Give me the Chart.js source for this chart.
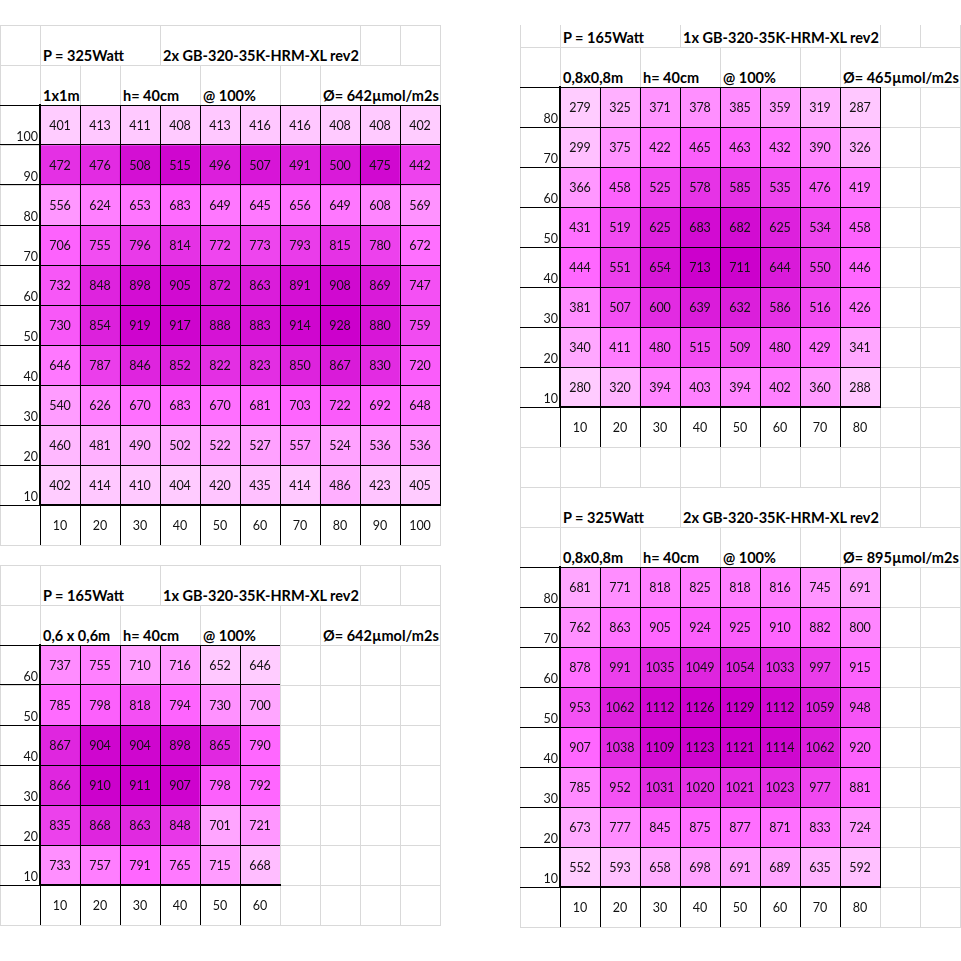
<!DOCTYPE html>
<html>
<head>
<meta charset="utf-8">
<script src="https://cdn.jsdelivr.net/npm/chart.js@4.4.1/dist/chart.umd.min.js"></script>
<style>
  body { margin: 0; background: #fff; }
  #sheet { position: relative; width: 961px; height: 961px; overflow: hidden; font-family: Lato, sans-serif; }
  .g { position: absolute; background: #d9d9d9; }
  .hd { position: absolute; font-weight: bold; font-size: 14.5px; line-height: 18px; white-space: nowrap; color: #000; }
  canvas { position: absolute; }
</style>
</head>
<body>
<div id="sheet"></div>
<script>
// --- data (rows listed top to bottom, as in the sheet) ---
const xLabels100 = ['10', '20', '30', '40', '50', '60', '70', '80', '90', '100'];
const yLabels100 = ['100', '90', '80', '70', '60', '50', '40', '30', '20', '10'];
const ppfd100 = [
  [401, 413, 411, 408, 413, 416, 416, 408, 408, 402],
  [472, 476, 508, 515, 496, 507, 491, 500, 475, 442],
  [556, 624, 653, 683, 649, 645, 656, 649, 608, 569],
  [706, 755, 796, 814, 772, 773, 793, 815, 780, 672],
  [732, 848, 898, 905, 872, 863, 891, 908, 869, 747],
  [730, 854, 919, 917, 888, 883, 914, 928, 880, 759],
  [646, 787, 846, 852, 822, 823, 850, 867, 830, 720],
  [540, 626, 670, 683, 670, 681, 703, 722, 692, 648],
  [460, 481, 490, 502, 522, 527, 557, 524, 536, 536],
  [402, 414, 410, 404, 420, 435, 414, 486, 423, 405]
];
const shade100Row90 = [820, 830, 895, 915, 860, 880, 850, 870, 910, 780];

const xLabels60 = ['10', '20', '30', '40', '50', '60'];
const yLabels60 = ['60', '50', '40', '30', '20', '10'];
const ppfd60 = [
  [737, 755, 710, 716, 652, 646],
  [785, 798, 818, 794, 730, 700],
  [867, 904, 904, 898, 865, 790],
  [866, 910, 911, 907, 798, 792],
  [835, 868, 863, 848, 701, 721],
  [733, 757, 791, 765, 715, 668]
];

const xLabels80 = ['10', '20', '30', '40', '50', '60', '70', '80'];
const yLabels80 = ['80', '70', '60', '50', '40', '30', '20', '10'];
const ppfd80single = [
  [279, 325, 371, 378, 385, 359, 319, 287],
  [299, 375, 422, 465, 463, 432, 390, 326],
  [366, 458, 525, 578, 585, 535, 476, 419],
  [431, 519, 625, 683, 682, 625, 534, 458],
  [444, 551, 654, 713, 711, 644, 550, 446],
  [381, 507, 600, 639, 632, 586, 516, 426],
  [340, 411, 480, 515, 509, 480, 429, 341],
  [280, 320, 394, 403, 394, 402, 360, 288]
];
const ppfd80double = [
  [681, 771, 818, 825, 818, 816, 745, 691],
  [762, 863, 905, 924, 925, 910, 882, 800],
  [878, 991, 1035, 1049, 1054, 1033, 997, 915],
  [953, 1062, 1112, 1126, 1129, 1112, 1059, 948],
  [907, 1038, 1109, 1123, 1121, 1114, 1062, 920],
  [785, 952, 1031, 1020, 1021, 1023, 977, 881],
  [673, 777, 845, 875, 877, 871, 833, 724],
  [552, 593, 658, 698, 691, 689, 635, 592]
];

const head100 = ['P = 325Watt', '2x GB-320-35K-HRM-XL rev2', '1x1m', 'h= 40cm', '@ 100%', 'Ø= 642µmol/m2s'];
const head60 = ['P = 165Watt', '1x GB-320-35K-HRM-XL rev2', '0,6 x 0,6m', 'h= 40cm', '@ 100%', 'Ø= 642µmol/m2s'];
const head80single = ['P = 165Watt', '1x GB-320-35K-HRM-XL rev2', '0,8x0,8m', 'h= 40cm', '@ 100%', 'Ø= 465µmol/m2s'];
const head80double = ['P = 325Watt', '2x GB-320-35K-HRM-XL rev2', '0,8x0,8m', 'h= 40cm', '@ 100%', 'Ø= 895µmol/m2s'];

const GREY = '#d9d9d9';
const LOW = [255, 204, 255], MID = [255, 102, 255], HIGH = [204, 0, 204];
const tickFont = { family: 'Lato', size: 12.5 };
const sheet = document.getElementById('sheet');

// --- spreadsheet chrome ---
function line(x, y, w, h) {
  const d = document.createElement('div');
  d.className = 'g';
  d.style.cssText = `left:${x}px;top:${y}px;width:${w}px;height:${h}px`;
  sheet.appendChild(d);
}
function range(a, b, step) {
  const out = [];
  for (let v = a; v <= b; v += step) out.push(v);
  return out;
}
const hLines = (x1, x2, ys) => ys.forEach(y => line(x1, y, x2 - x1 + 1, 1));
const vLines = (xs, y1, y2) => xs.forEach(x => line(x, y1, 1, y2 - y1));

hLines(0, 440, [25, 65, ...range(105, 545, 40)]);
vLines([0, 40, 160, 360, 400, 440], 25, 65);
vLines([0, 40, 80, 120, 200, 280, 320, 440], 65, 105);
vLines(range(0, 440, 40), 105, 545);
hLines(0, 440, [565, 605, ...range(645, 925, 40)]);
vLines([0, 40, 160, 360, 400, 440], 565, 605);
vLines([0, 40, 120, 200, 280, 320, 440], 605, 645);
vLines(range(0, 440, 40), 645, 925);

hLines(520, 960, [47, ...range(87, 927, 40)]);
vLines([520, 560, 680, 880, 920, 960], 25, 47);
vLines([520, 560, 640, 720, 800, 840, 960], 47, 87);
vLines(range(520, 960, 40), 87, 487);
vLines([520, 560, 680, 880, 920, 960], 487, 527);
vLines([520, 560, 640, 720, 800, 840, 960], 527, 567);
vLines(range(520, 960, 40), 567, 927);

function headers(texts, x0, bottom1, bottom2) {
  const spots = [[x0 + 3, bottom1], [x0 + 123, bottom1], [x0 + 3, bottom2], [x0 + 83, bottom2], [x0 + 163, bottom2], [x0 + 283, bottom2]];
  texts.forEach((t, i) => {
    const d = document.createElement('div');
    d.className = 'hd';
    d.textContent = t;
    d.style.left = spots[i][0] + 'px';
    d.style.top = (spots[i][1] - 18) + 'px';
    sheet.appendChild(d);
  });
}
headers(head100, 40, 65, 105);
headers(head60, 40, 605, 645);
headers(head80single, 560, 47, 87);
headers(head80double, 560, 527, 567);

// --- colour scale: min / median / max like a 3-colour scale ---
function median(arr) {
  const s = [...arr].sort((a, b) => a - b);
  const n = s.length;
  return n % 2 ? s[(n - 1) / 2] : (s[n / 2 - 1] + s[n / 2]) / 2;
}
function makeScale(vals) {
  const lo = Math.min(...vals), hi = Math.max(...vals), mid = median(vals);
  return v => {
    let a, b, t;
    if (v <= mid) { a = LOW; b = MID; t = (v - lo) / (mid - lo); }
    else { a = MID; b = HIGH; t = (v - mid) / (hi - mid); }
    return 'rgb(' + a.map((k, i) => Math.round(k + (b[i] - k) * t)).join(',') + ')';
  };
}

const valueLabels = {
  id: 'valueLabels',
  afterDraw(chart) {
    const ctx = chart.ctx;
    ctx.save();
    ctx.font = '12.5px Lato';
    ctx.fillStyle = '#111';
    ctx.textAlign = 'center';
    ctx.textBaseline = 'middle';
    chart.data.datasets.forEach((ds, d) => {
      chart.getDatasetMeta(d).data.forEach((bar, j) => {
        const p = bar.getCenterPoint();
        ctx.fillText(ds.data[j].v, p.x, p.y + 1);
      });
    });
    ctx.restore();
  }
};

function heatmap(box, xLabels, yLabels, values, shades, openRight) {
  const canvas = document.createElement('canvas');
  canvas.width = box.w;
  canvas.height = box.h;
  canvas.style.left = box.x + 'px';
  canvas.style.top = box.y + 'px';
  sheet.appendChild(canvas);

  const colour = makeScale(shades.flat());
  const n = yLabels.length;
  const datasets = values.map((row, r) => {
    const i = n - 1 - r;
    return {
      data: row.map((v, j) => ({ x: xLabels[j], y: [i, i + 1], v })),
      backgroundColor: shades[r].map(colour),
      borderWidth: 0,
      grouped: false,
      barPercentage: 1,
      categoryPercentage: 1
    };
  });

  new Chart(canvas, {
    type: 'bar',
    data: { labels: xLabels, datasets },
    options: {
      responsive: false,
      animation: false,
      events: [],
      layout: { padding: { top: 1, right: 1 } },
      plugins: { legend: { display: false }, tooltip: { enabled: false } },
      scales: {
        x: {
          grid: {
            z: 1,
            offset: true,
            tickLength: 40,
            color: c => c.type !== 'tick' && openRight ? 'rgba(0,0,0,0)' : '#000',
            tickColor: c => c.type !== 'tick' ? GREY : '#000'
          },
          border: { z: 1, color: '#000', width: 2 },
          ticks: { padding: -27, font: tickFont, color: '#111', maxRotation: 0, autoSkip: false },
          afterFit: s => { s.height = 40; }
        },
        y: {
          type: 'linear',
          min: 0,
          max: n,
          grid: { z: 1, color: '#000', tickLength: 40 },
          border: { z: 1, color: '#000', width: 2 },
          ticks: {
            stepSize: 1,
            padding: -38,
            labelOffset: -8.5,
            font: tickFont,
            color: '#111',
            callback: v => (v < n ? yLabels[n - 1 - v] : '')
          },
          afterFit: s => { s.width = 40; }
        }
      }
    },
    plugins: [valueLabels]
  });
}

const shade100 = ppfd100.map((row, r) => (r === 1 ? shade100Row90 : row));
heatmap({ x: 0, y: 104, w: 441, h: 441 }, xLabels100, yLabels100, ppfd100, shade100, false);
heatmap({ x: 0, y: 644, w: 281, h: 281 }, xLabels60, yLabels60, ppfd60, ppfd60, true);
heatmap({ x: 520, y: 86, w: 361, h: 361 }, xLabels80, yLabels80, ppfd80single, ppfd80single, false);
heatmap({ x: 520, y: 566, w: 361, h: 361 }, xLabels80, yLabels80, ppfd80double, ppfd80double, false);
</script>
</body>
</html>
